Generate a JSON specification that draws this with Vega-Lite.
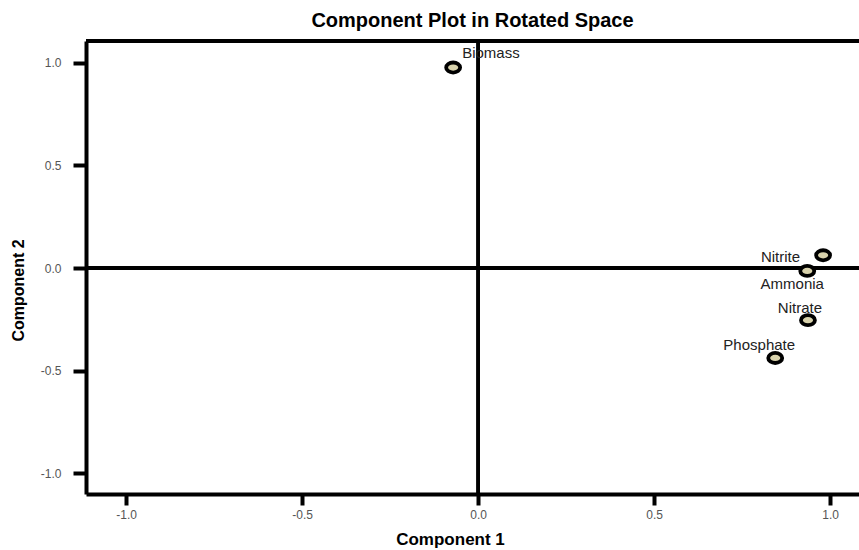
{
  "$schema": "https://vega.github.io/schema/vega-lite/v6.json",
  "width": 773,
  "height": 453,
  "autosize": "none",
  "padding": {"left": 86, "top": 41, "right": 0, "bottom": 56},
  "background": "white",
  "config": {
    "view": {"stroke": null},
    "font": "Liberation Sans"
  },
  "title": {
    "text": "Component Plot in Rotated Space",
    "font": "Liberation Sans",
    "fontSize": 20,
    "fontWeight": "bold",
    "color": "#000000",
    "anchor": "middle",
    "frame": "group",
    "baseline": "alphabetic",
    "offset": 14,
    "dy": 22
  },
  "data": {
    "values": [
      {"variable": "Biomass", "c1": -0.071, "c2": 0.976},
      {"variable": "Nitrite", "c1": 0.980, "c2": 0.062},
      {"variable": "Ammonia", "c1": 0.935, "c2": -0.014},
      {"variable": "Nitrate", "c1": 0.937, "c2": -0.254},
      {"variable": "Phosphate", "c1": 0.844, "c2": -0.438}
    ]
  },
  "encoding": {
    "x": {
      "field": "c1", "type": "quantitative",
      "scale": {"domain": [-1.114, 1.082], "nice": false, "zero": false},
      "axis": {
        "title": "Component 1",
        "values": [-1, -0.5, 0, 0.5, 1],
        "format": ".1f",
        "labelExpr": "replace(datum.label, '\u2212', '-')",
        "grid": false,
        "domainColor": "#000000", "domainWidth": 4,
        "tickColor": "#000000", "tickWidth": 4, "tickSize": 11,
        "labelFont": "Liberation Sans", "labelFontSize": 12, "labelColor": "#555555", "labelPadding": 4,
        "titleFont": "Liberation Sans", "titleFontSize": 17, "titleFontWeight": "bold", "titleColor": "#000000",
        "titleX": 364, "titleY": 45, "titleBaseline": "middle", "titleAnchor": null
      }
    },
    "y": {
      "field": "c2", "type": "quantitative",
      "scale": {"domain": [-1.1, 1.105], "nice": false, "zero": false},
      "axis": {
        "title": "Component  2",
        "values": [-1, -0.5, 0, 0.5, 1],
        "format": ".1f",
        "labelExpr": "replace(datum.label, '\u2212', '-')",
        "grid": false,
        "domainColor": "#000000", "domainWidth": 4,
        "tickColor": "#000000", "tickWidth": 4, "tickSize": 13,
        "labelFont": "Liberation Sans", "labelFontSize": 12, "labelColor": "#555555", "labelPadding": 12,
        "titleFont": "Liberation Sans", "titleFontSize": 16, "titleFontWeight": "bold", "titleColor": "#000000",
        "titleX": -68, "titleY": 249, "titleBaseline": "middle", "titleAngle": -90, "titleAnchor": null
      }
    }
  },
  "layer": [
    {
      "mark": {"type": "rule", "color": "#000000", "strokeWidth": 4},
      "encoding": {"y": {"datum": 1.105}, "x": null}
    },
    {
      "mark": {"type": "rule", "color": "#000000", "strokeWidth": 3.5},
      "encoding": {"y": {"datum": 0}, "x": null}
    },
    {
      "mark": {"type": "rule", "color": "#000000", "strokeWidth": 3},
      "encoding": {"x": {"datum": 0}, "y": null}
    },
    {
      "mark": {
        "type": "point",
        "shape": "M-1,0A1,0.72 0 1,0 1,0A1,0.72 0 1,0 -1,0Z",
        "size": 195,
        "filled": true,
        "fill": "#d8d2ac",
        "stroke": "#000000",
        "strokeWidth": 3.8,
        "opacity": 1
      }
    },
    {
      "transform": [{"filter": "datum.variable === 'Biomass'"}],
      "mark": {"type": "text", "align": "left", "baseline": "middle", "dx": 9, "dy": -15, "fontSize": 15, "color": "#222222", "font": "Liberation Sans"},
      "encoding": {"text": {"field": "variable"}}
    },
    {
      "transform": [{"filter": "datum.variable === 'Nitrite'"}],
      "mark": {"type": "text", "align": "right", "baseline": "middle", "dx": -23, "dy": 2, "fontSize": 15, "color": "#222222", "font": "Liberation Sans"},
      "encoding": {"text": {"field": "variable"}}
    },
    {
      "transform": [{"filter": "datum.variable === 'Ammonia'"}],
      "mark": {"type": "text", "align": "center", "baseline": "middle", "dx": -15, "dy": 13, "fontSize": 15, "color": "#222222", "font": "Liberation Sans"},
      "encoding": {"text": {"field": "variable"}}
    },
    {
      "transform": [{"filter": "datum.variable === 'Nitrate'"}],
      "mark": {"type": "text", "align": "center", "baseline": "middle", "dx": -8, "dy": -12, "fontSize": 15, "color": "#222222", "font": "Liberation Sans"},
      "encoding": {"text": {"field": "variable"}}
    },
    {
      "transform": [{"filter": "datum.variable === 'Phosphate'"}],
      "mark": {"type": "text", "align": "center", "baseline": "middle", "dx": -16, "dy": -13, "fontSize": 15, "color": "#222222", "font": "Liberation Sans"},
      "encoding": {"text": {"field": "variable"}}
    }
  ]
}
